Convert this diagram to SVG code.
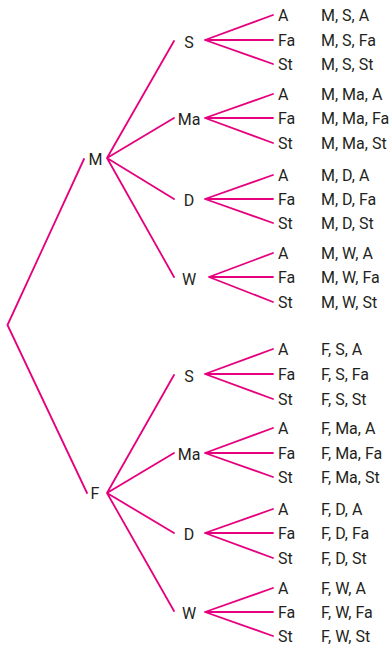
<svg xmlns="http://www.w3.org/2000/svg" width="392" height="648" viewBox="0 0 392 648">
<style>
.e{stroke:#e6007e;stroke-width:1.8;fill:none;stroke-linecap:round;stroke-linejoin:round}
text{font-family:Roboto,"Liberation Sans",sans-serif;font-size:16px;fill:#231f20}
.m{text-anchor:middle}
</style>
<rect width="392" height="648" fill="#fff"/>
<g id="connectors">
<path class="e" d="M84,159 L7.5,325 L87,493"/>
<path class="e" d="M174,41 L107,158 L174,118 M107,158 L174,199 M107,158 L174,277"/>
<path class="e" d="M174,375 L107,493 L174,453 M107,493 L174,533 M107,493 L174,611"/>
<path class="e" d="M273,15 L205,40 L273,40 M205,40 L273,64"/>
<path class="e" d="M273,94 L205,118 L273,118 M205,118 L273,143"/>
<path class="e" d="M273,175 L205,199 L273,199 M205,199 L273,223"/>
<path class="e" d="M273,253 L209,277 L273,277 M209,277 L273,302"/>
<path class="e" d="M273,349 L205,374 L273,374 M205,374 L273,399"/>
<path class="e" d="M273,428 L205,453 L273,453 M205,453 L273,477"/>
<path class="e" d="M273,509 L205,533 L273,533 M205,533 L273,558"/>
<path class="e" d="M273,588 L205,612 L273,612 M205,612 L273,636"/>
</g>
<g id="n-M"><text class="m" x="95.5" y="165">M</text></g>
<g id="n-F"><text class="m" x="95" y="499">F</text></g>
<g id="n-M-S"><text class="m" x="189" y="48">S</text></g>
<g id="n-M-Ma"><text class="m" x="189" y="125">Ma</text></g>
<g id="n-M-D"><text class="m" x="189" y="206">D</text></g>
<g id="n-M-W"><text class="m" x="189" y="285">W</text></g>
<g id="n-F-S"><text class="m" x="189" y="382">S</text></g>
<g id="n-F-Ma"><text class="m" x="189" y="460">Ma</text></g>
<g id="n-F-D"><text class="m" x="189" y="540">D</text></g>
<g id="n-F-W"><text class="m" x="189" y="619">W</text></g>
<g id="leaves">
<text x="278" y="21">A</text><text x="321" y="21">M, S, A</text>
<text x="278" y="46">Fa</text><text x="321" y="46">M, S, Fa</text>
<text x="278" y="70">St</text><text x="321" y="70">M, S, St</text>
<text x="278" y="100">A</text><text x="321" y="100">M, Ma, A</text>
<text x="278" y="124">Fa</text><text x="321" y="124">M, Ma, Fa</text>
<text x="278" y="149">St</text><text x="321" y="149">M, Ma, St</text>
<text x="278" y="181">A</text><text x="321" y="181">M, D, A</text>
<text x="278" y="205">Fa</text><text x="321" y="205">M, D, Fa</text>
<text x="278" y="229">St</text><text x="321" y="229">M, D, St</text>
<text x="278" y="259">A</text><text x="321" y="259">M, W, A</text>
<text x="278" y="283">Fa</text><text x="321" y="283">M, W, Fa</text>
<text x="278" y="308">St</text><text x="321" y="308">M, W, St</text>
<text x="278" y="355">A</text><text x="321" y="355">F, S, A</text>
<text x="278" y="380">Fa</text><text x="321" y="380">F, S, Fa</text>
<text x="278" y="405">St</text><text x="321" y="405">F, S, St</text>
<text x="278" y="434">A</text><text x="321" y="434">F, Ma, A</text>
<text x="278" y="459">Fa</text><text x="321" y="459">F, Ma, Fa</text>
<text x="278" y="483">St</text><text x="321" y="483">F, Ma, St</text>
<text x="278" y="515">A</text><text x="321" y="515">F, D, A</text>
<text x="278" y="539">Fa</text><text x="321" y="539">F, D, Fa</text>
<text x="278" y="564">St</text><text x="321" y="564">F, D, St</text>
<text x="278" y="594">A</text><text x="321" y="594">F, W, A</text>
<text x="278" y="618">Fa</text><text x="321" y="618">F, W, Fa</text>
<text x="278" y="642">St</text><text x="321" y="642">F, W, St</text>
</g>
</svg>
